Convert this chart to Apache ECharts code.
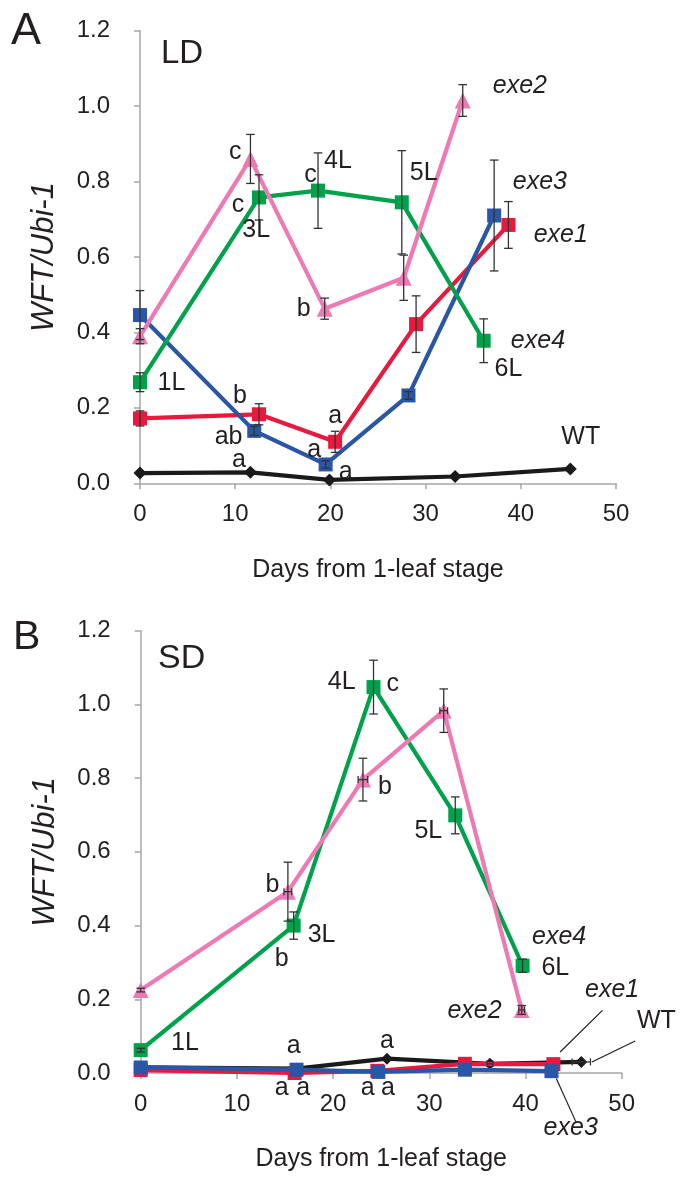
<!DOCTYPE html>
<html>
<head>
<meta charset="utf-8">
<script src="https://cdn.jsdelivr.net/npm/echarts@6/dist/echarts.min.js"></script>
<style>
html,body{margin:0;padding:0;background:#fff;}
#chart{width:690px;height:1187px;}
</style>
</head>
<body>
<div id="chart"></div>
<script>
// ---------- Tick labels ----------
const xTicks = [0, 10, 20, 30, 40, 50];
const yTicks = [0.0, 0.2, 0.4, 0.6, 0.8, 1.0, 1.2];

// ---------- Panel A (LD) ----------
const ldWT_days   = [0, 11.6, 19.9, 33.1, 45.2];
const ldWT_vals   = [0.027, 0.029, 0.009, 0.018, 0.038];

const ldExe1_days = [0, 12.5, 20.5, 29.0, 38.7];
const ldExe1_vals = [0.172, 0.183, 0.110, 0.422, 0.685];
const ldExe1_err  = [0.02, 0.028, 0.028, 0.075, 0.062];

const ldExe3_days = [0, 12.0, 19.5, 28.2, 37.2];
const ldExe3_vals = [0.446, 0.139, 0.050, 0.233, 0.710];
const ldExe3_err  = [0.065, 0.012, 0.01, 0.01, 0.147];

const ldExe4_days = [0, 12.5, 18.7, 27.5, 36.1];
const ldExe4_vals = [0.268, 0.758, 0.776, 0.745, 0.378];
const ldExe4_err  = [0.025, 0.06, 0.10, 0.137, 0.058];

const ldExe2_days = [0, 11.6, 19.4, 27.7, 33.9];
const ldExe2_vals = [0.390, 0.860, 0.463, 0.545, 1.015];
const ldExe2_err  = [0.02, 0.065, 0.028, 0.06, 0.042];

// annotations [day, value, text, italic]
const ldNotes = [
  [10.0, 0.879, 'c', 0], [10.3, 0.738, 'c', 0], [12.2, 0.671, '3L', 0],
  [17.9, 0.817, 'c', 0], [20.8, 0.853, '4L', 0], [29.8, 0.822, '5L', 0],
  [39.9, 1.053, 'exe2', 1], [42.0, 0.800, 'exe3', 1], [44.2, 0.658, 'exe1', 1],
  [17.2, 0.4625, 'b', 0], [41.8, 0.378, 'exe4', 1], [38.7, 0.302, '6L', 0],
  [3.3, 0.266, '1L', 0], [10.5, 0.230, 'b', 0], [9.3, 0.123, 'ab', 0],
  [20.5, 0.177, 'a', 0], [18.3, 0.089, 'a', 0], [10.4, 0.061, 'a', 0],
  [21.6, 0.029, 'a', 0], [46.3, 0.123, 'WT', 0]
];

// ---------- Panel B (SD) ----------
const sdWT_days   = [0, 16.2, 25.6, 36.3, 45.8];
const sdWT_vals   = [0.015, 0.012, 0.039, 0.025, 0.030];
const sdWT_xerr   = [0, 0, 0, 0.3, 0.95];

const sdExe1_days = [0, 16.0, 24.6, 33.7, 42.9];
const sdExe1_vals = [0.008, 0.0, 0.006, 0.025, 0.024];

const sdExe3_days = [0, 16.2, 24.7, 33.7, 42.7];
const sdExe3_vals = [0.015, 0.009, 0.003, 0.009, 0.005];

const sdExe4_days = [0, 15.9, 24.2, 32.7, 39.7];
const sdExe4_vals = [0.062, 0.400, 1.047, 0.699, 0.291];
const sdExe4_err  = [0.005, 0.037, 0.073, 0.05, 0.018];

const sdExe2_days = [0, 15.3, 23.1, 31.5, 39.6];
const sdExe2_vals = [0.225, 0.492, 0.796, 0.983, 0.171];
const sdExe2_err  = [0.005, 0.08, 0.058, 0.059, 0.012];
const sdExe2_xerr = [0, 0.4, 0.5, 0.4, 0.3];

const sdNotes = [
  [20.9, 1.061, '4L', 0], [26.2, 1.055, 'c', 0], [25.4, 0.776, 'b', 0],
  [29.9, 0.657, '5L', 0], [13.7, 0.511, 'b', 0], [18.8, 0.373, '3L', 0],
  [14.65, 0.308, 'b', 0], [4.6, 0.080, '1L', 0], [43.5, 0.369, 'exe4', 1],
  [43.1, 0.285, '6L', 0], [34.7, 0.167, 'exe2', 1], [49.0, 0.226, 'exe1', 1],
  [53.6, 0.142, 'WT', 0], [44.7, -0.149, 'exe3', 1],
  [15.9, 0.074, 'a', 0], [25.6, 0.086, 'a', 0],
  [14.65, -0.041, 'a', 0], [16.9, -0.041, 'a', 0],
  [23.6, -0.041, 'a', 0], [25.7, -0.041, 'a', 0]
];
// leader lines [x1, y1, x2, y2]
const sdLeaders = [
  [48.0, 0.170, 43.6, 0.057],
  [51.4, 0.087, 46.9, 0.030],
  [43.2, -0.015, 45.3, -0.136]
];

// ---------- styles ----------
const FONT = '"Liberation Sans", Arial, Helvetica, sans-serif';
const C = {
  wt: '#1a1a1a', exe1: '#e8193c', exe3: '#2a56a6', exe4: '#00a14b', exe2: '#ee7ab3'
};
const ERR = '#333333';

function zip(d, v) { return d.map((x, i) => [x, v[i]]); }

function lineSeries(idx, name, days, vals, color, symbol, size, z) {
  return {
    type: 'line', name: name, xAxisIndex: idx, yAxisIndex: idx,
    data: zip(days, vals), symbol: symbol, symbolSize: size,
    showSymbol: true, animation: false, z: z,
    lineStyle: { color: color, width: 4.2 },
    itemStyle: { color: color, borderWidth: 0 },
    emphasis: { disabled: true }
  };
}

function errSeries(idx, days, vals, err) {
  return {
    type: 'custom', xAxisIndex: idx, yAxisIndex: idx, z: 20, animation: false, clip: false,
    data: days.map((d, i) => [d, vals[i] - err[i], vals[i] + err[i]]),
    renderItem: function (params, api) {
      const x = api.value(0), lo = api.value(1), hi = api.value(2);
      const p1 = api.coord([x, hi]), p2 = api.coord([x, lo]);
      const w = 4.3;
      const st = { stroke: ERR, lineWidth: 1.3 };
      return { type: 'group', children: [
        { type: 'line', shape: { x1: p1[0], y1: p1[1], x2: p2[0], y2: p2[1] }, style: st },
        { type: 'line', shape: { x1: p1[0] - w, y1: p1[1], x2: p1[0] + w, y2: p1[1] }, style: st },
        { type: 'line', shape: { x1: p2[0] - w, y1: p2[1], x2: p2[0] + w, y2: p2[1] }, style: st }
      ]};
    }
  };
}

function xErrSeries(idx, days, vals, xerr) {
  return {
    type: 'custom', xAxisIndex: idx, yAxisIndex: idx, z: 20, animation: false, clip: false,
    data: days.map((d, i) => [d - xerr[i], d + xerr[i], vals[i]]).filter(r => r[1] > r[0]),
    renderItem: function (params, api) {
      const a = api.coord([api.value(0), api.value(2)]);
      const b = api.coord([api.value(1), api.value(2)]);
      const h = 3.5;
      const st = { stroke: ERR, lineWidth: 1.3 };
      return { type: 'group', children: [
        { type: 'line', shape: { x1: a[0], y1: a[1], x2: b[0], y2: b[1] }, style: st },
        { type: 'line', shape: { x1: a[0], y1: a[1] - h, x2: a[0], y2: a[1] + h }, style: st },
        { type: 'line', shape: { x1: b[0], y1: b[1] - h, x2: b[0], y2: b[1] + h }, style: st }
      ]};
    }
  };
}

function noteSeries(idx, notes) {
  return {
    type: 'custom', xAxisIndex: idx, yAxisIndex: idx, z: 30, animation: false, clip: false,
    data: notes,
    renderItem: function (params, api) {
      const n = notes[params.dataIndex];
      const p = api.coord([n[0], n[1]]);
      return {
        type: 'text', x: p[0], y: p[1],
        style: {
          text: n[2], fill: '#231f20',
          font: (n[3] ? 'italic ' : '') + '25px ' + FONT,
          align: 'center', verticalAlign: 'middle',
          textAlign: 'center', textVerticalAlign: 'middle'
        }
      };
    }
  };
}

function leaderSeries(idx, lines) {
  return {
    type: 'custom', xAxisIndex: idx, yAxisIndex: idx, z: 30, animation: false, clip: false,
    data: lines,
    renderItem: function (params, api) {
      const l = lines[params.dataIndex];
      const a = api.coord([l[0], l[1]]), b = api.coord([l[2], l[3]]);
      return { type: 'line', shape: { x1: a[0], y1: a[1], x2: b[0], y2: b[1] },
               style: { stroke: '#231f20', lineWidth: 1.2 } };
    }
  };
}

function xAxis(idx) {
  return {
    type: 'value', gridIndex: idx, min: xTicks[0], max: xTicks[xTicks.length - 1], interval: 10,
    name: 'Days from 1-leaf stage', nameLocation: 'middle', nameGap: 74,
    nameTextStyle: { fontFamily: FONT, fontSize: 25, color: '#231f20' },
    axisLine: { show: true, lineStyle: { color: '#a6a6a6', width: 1.5 } },
    axisTick: { show: true, length: 6, lineStyle: { color: '#a6a6a6', width: 1.5 } },
    axisLabel: { fontFamily: FONT, fontSize: 24, color: '#231f20', margin: 19 },
    splitLine: { show: false }
  };
}
function yAxis(idx) {
  return {
    type: 'value', gridIndex: idx, min: yTicks[0], max: yTicks[yTicks.length - 1], interval: 0.2,
    name: 'WFT/Ubi-1', nameLocation: 'middle', nameGap: 80, nameRotate: 90,
    nameTextStyle: { fontFamily: FONT, fontSize: 31, fontStyle: 'italic', color: '#231f20' },
    axisLine: { show: true, lineStyle: { color: '#a6a6a6', width: 1.5 } },
    axisTick: { show: true, length: 6, lineStyle: { color: '#a6a6a6', width: 1.5 } },
    axisLabel: { fontFamily: FONT, fontSize: 24, color: '#231f20', margin: 30,
                 formatter: v => v.toFixed(1) },
    splitLine: { show: false }
  };
}

const chart = echarts.init(document.getElementById('chart'), null, { renderer: 'canvas' });
const option = {
  backgroundColor: '#ffffff',
  animation: false,
  grid: [
    { left: 140, top: 30.7, width: 476, height: 452.6 },
    { left: 140.7, top: 630.7, width: 481, height: 442.3 }
  ],
  xAxis: [xAxis(0), xAxis(1)],
  yAxis: [yAxis(0), yAxis(1)],
  graphic: [
    { type: 'text', left: 11, top: 9, style: { text: 'A', font: '45px ' + FONT, fill: '#231f20' } },
    { type: 'text', left: 161, top: 37, style: { text: 'LD', font: '33px ' + FONT, fill: '#231f20' } },
    { type: 'text', left: 13, top: 617, style: { text: 'B', font: '41px ' + FONT, fill: '#231f20' } },
    { type: 'text', left: 158, top: 642, style: { text: 'SD', font: '34px ' + FONT, fill: '#231f20' } }
  ],
  series: [
    lineSeries(0, 'WT', ldWT_days, ldWT_vals, C.wt, 'diamond', 13, 2),
    lineSeries(0, 'exe1', ldExe1_days, ldExe1_vals, C.exe1, 'rect', 14, 3),
    lineSeries(0, 'exe3', ldExe3_days, ldExe3_vals, C.exe3, 'rect', 14, 4),
    lineSeries(0, 'exe4', ldExe4_days, ldExe4_vals, C.exe4, 'rect', 14, 5),
    lineSeries(0, 'exe2', ldExe2_days, ldExe2_vals, C.exe2, 'triangle', 16, 6),
    errSeries(0, ldExe1_days, ldExe1_vals, ldExe1_err),
    errSeries(0, ldExe3_days, ldExe3_vals, ldExe3_err),
    errSeries(0, ldExe4_days, ldExe4_vals, ldExe4_err),
    errSeries(0, ldExe2_days, ldExe2_vals, ldExe2_err),
    noteSeries(0, ldNotes),

    lineSeries(1, 'WT', sdWT_days, sdWT_vals, C.wt, 'diamond', 12, 2),
    lineSeries(1, 'exe1', sdExe1_days, sdExe1_vals, C.exe1, 'rect', 14, 3),
    lineSeries(1, 'exe3', sdExe3_days, sdExe3_vals, C.exe3, 'rect', 14, 4),
    lineSeries(1, 'exe4', sdExe4_days, sdExe4_vals, C.exe4, 'rect', 14, 5),
    lineSeries(1, 'exe2', sdExe2_days, sdExe2_vals, C.exe2, 'triangle', 16, 6),
    errSeries(1, sdExe4_days, sdExe4_vals, sdExe4_err),
    errSeries(1, sdExe2_days, sdExe2_vals, sdExe2_err),
    xErrSeries(1, sdExe2_days, sdExe2_vals, sdExe2_xerr),
    xErrSeries(1, sdWT_days, sdWT_vals, sdWT_xerr),
    noteSeries(1, sdNotes),
    leaderSeries(1, sdLeaders)
  ]
};
chart.setOption(option);
</script>
</body>
</html>
